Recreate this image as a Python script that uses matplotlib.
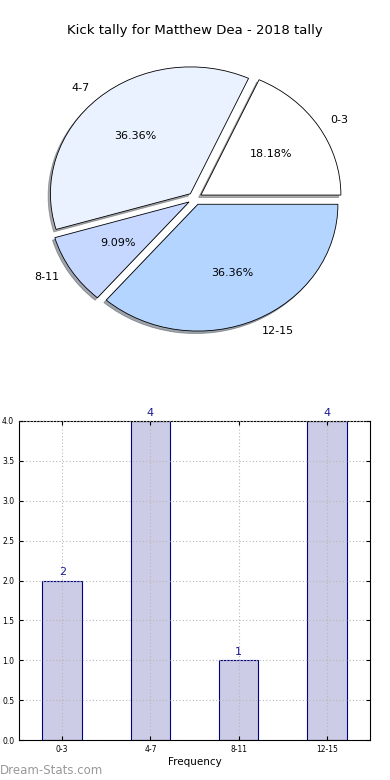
import numpy as np
import matplotlib
matplotlib.use('Agg')
import matplotlib.pyplot as plt

categories = ['0-3', '4-7', '8-11', '12-15']
counts = [2, 4, 1, 4]
pie_colors = ['#ffffff', '#ebf2ff', '#c6d8ff', '#b4d5ff']
explode = [0.05, 0.05, 0.05, 0.05]
yticks = [0.0, 0.5, 1.0, 1.5, 2.0, 2.5, 3.0, 3.5, 4.0]

fig = plt.figure(figsize=(3.9, 7.8), dpi=100)

# pie at top
ax1 = fig.add_axes([20 / 390, 423 / 780, 350 / 390, 317 / 780])
wedges, texts, autotexts = ax1.pie(
  counts,
  labels=categories,
  colors=pie_colors,
  explode=explode,
  autopct='%1.2f%%',
  shadow={'ox': -0.012, 'oy': -0.014, 'shade': 0.65},
  startangle=0,
  wedgeprops={'edgecolor': 'black', 'linewidth': 0.6},
  textprops={'fontsize': 8},
)
ax1.set_aspect('auto')
ax1.set_xlim(-1.25, 1.25)
ax1.set_ylim(-1.25, 1.25)
ax1.set_title('Kick tally for Matthew Dea - 2018 tally', fontsize=9.5, pad=4)

# bar chart below
ax2 = fig.add_axes([19 / 390, 40 / 780, 351 / 390, 319 / 780])
x = np.arange(len(categories))
bars = ax2.bar(x, counts, width=0.45, color='#ccccE6', edgecolor='#000080', linewidth=0.8, zorder=2)
for xi, c in zip(x, counts):
  ax2.text(xi, c + 0.04, str(c), ha='center', va='bottom', fontsize=8, color='#1a1a99')
ax2.set_xlim(-0.49, 3.49)
ax2.set_ylim(0, 4.0)
ax2.set_xticks(x)
ax2.set_xticklabels(categories)
ax2.set_yticks(yticks)
ax2.set_yticklabels(['%.1f' % t for t in yticks])
ax2.tick_params(labelsize=5.5, direction='in', top=True, right=True, length=3)
ax2.grid(which='major', linestyle=(0, (1, 2)), color='#b8b8b8', linewidth=0.8, zorder=3)
ax2.set_axisbelow(False)
ax2.set_xlabel('Frequency', fontsize=7.5, labelpad=2)

fig.text(0.0, 0.004, 'Dream-Stats.com', fontsize=8.5, color='#999999', ha='left', va='bottom')

plt.savefig('out.png', dpi=100)
